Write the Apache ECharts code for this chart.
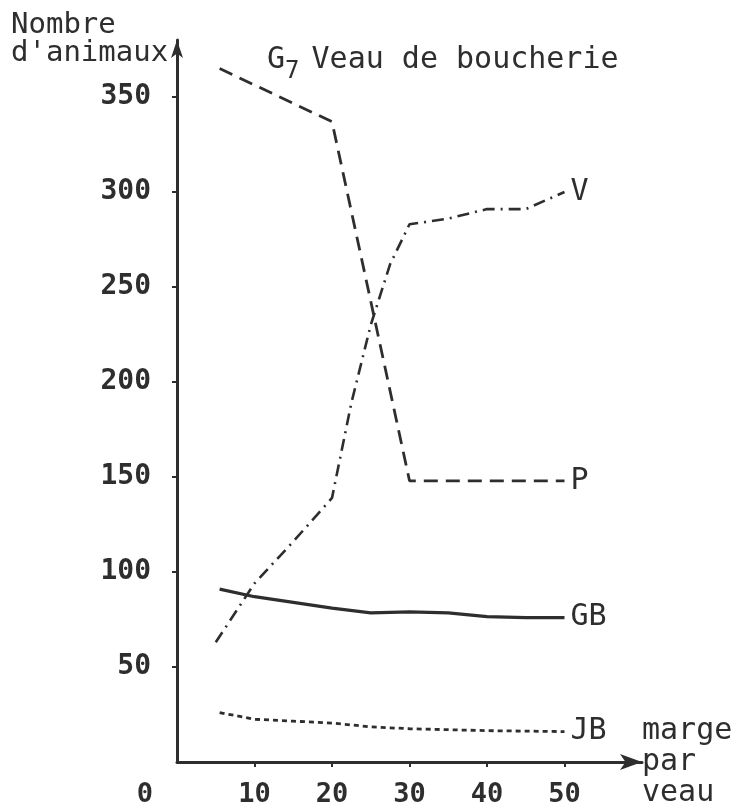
<!DOCTYPE html>
<html>
<head>
<meta charset="utf-8">
<script src="https://cdn.jsdelivr.net/npm/echarts@6/dist/echarts.min.js"></script>
<style>
  html, body { margin: 0; padding: 0; background: #fff; }
  #chart { width: 741px; height: 810px; }
</style>
</head>
<body>
<div id="chart"></div>
<script>
// valeurs (marge par veau -> nombre d'animaux)
const P_X = [5.5, 20, 30, 50];
const P_Y = [365, 337, 148, 148];

const V_X = [5, 10, 15, 20, 22.5, 25, 27.5, 30, 35, 40, 45, 50];
const V_Y = [63, 94, 116, 139, 189, 230, 262, 283, 286, 291, 291, 300];

const GB_X = [5.5, 10, 15, 20, 25, 30, 35, 40, 45, 50];
const GB_Y = [91, 87, 84, 81, 78.5, 79, 78.5, 76.5, 76, 76];

const JB_X = [5.5, 10, 15, 20, 25, 30, 40, 50];
const JB_Y = [26, 22.5, 21.5, 20.5, 18.5, 17.5, 16.5, 16];

const X_TICKS = [10, 20, 30, 40, 50];
const X_LABELS = [0, 10, 20, 30, 40, 50];
const Y_TICKS = [50, 100, 150, 200, 250, 300, 350];

const zip = (xs, ys) => xs.map((x, i) => [x, ys[i]]);

const FONT = "DejaVu Sans Mono";
const INK = "#2e2e2e";

const chart = echarts.init(document.getElementById("chart"), null, { renderer: "canvas" });

function curve(name, xs, ys, dash, width) {
  return {
    name: name,
    type: "line",
    data: zip(xs, ys),
    showSymbol: false,
    smooth: false,
    lineStyle: { color: INK, width: width, type: dash },
    endLabel: {
      show: true,
      formatter: name,
      distance: 6,
      color: INK,
      fontFamily: FONT,
      fontSize: 30
    },
    z: 3
  };
}

const option = {
  backgroundColor: "#fff",
  animation: false,
  title: [
    {
      text: "{g|G}{s|7}{t|Veau de boucherie}",
      left: 262,
      top: 31,
      textStyle: {
        fontWeight: "normal",
        rich: {
          g: { fontFamily: FONT, fontSize: 30, fontWeight: "normal", color: INK },
          s: { fontFamily: FONT, fontSize: 24, fontWeight: "normal", color: INK, padding: [24, 12, 0, 0] },
          t: { fontFamily: FONT, fontSize: 30, fontWeight: "normal", color: INK }
        }
      }
    },
    {
      text: "Nombre\nd'animaux",
      left: 6,
      top: 6,
      textStyle: { fontFamily: FONT, fontSize: 29, fontWeight: "normal", color: INK, lineHeight: 28 }
    }
  ],
  grid: { left: 177, right: 99, top: 40, bottom: 48, outerBoundsMode: "none" },
  xAxis: {
    type: "value",
    min: 0,
    max: 60,
    name: "marge\npar\nveau",
    nameLocation: "end",
    nameGap: 0,
    nameTextStyle: {
      fontFamily: FONT, fontSize: 30, color: INK, lineHeight: 31,
      align: "left", verticalAlign: "middle"
    },
    splitLine: { show: false },
    axisLine: {
      show: true,
      symbol: ["none", "arrow"],
      symbolSize: [12, 22],
      lineStyle: { color: INK, width: 3 }
    },
    axisTick: { show: true, inside: false, length: 5, customValues: X_TICKS, lineStyle: { color: INK, width: 2 } },
    axisLabel: {
      customValues: X_LABELS,
      margin: 19,
      fontFamily: FONT,
      fontSize: 27,
      fontWeight: "bold",
      color: INK,
      formatter: v => (v === 0 ? "{o|0}" : String(v)),
      rich: {
        o: { fontFamily: FONT, fontSize: 27, fontWeight: "bold", color: INK, padding: [0, 64, 0, 0] }
      }
    }
  },
  yAxis: {
    type: "value",
    min: 0,
    max: 380,
    splitLine: { show: false },
    axisLine: {
      show: true,
      symbol: ["none", "arrow"],
      symbolSize: [9, 18],
      lineStyle: { color: INK, width: 3 }
    },
    axisTick: { show: true, inside: false, length: 5, customValues: Y_TICKS, lineStyle: { color: INK, width: 2 } },
    axisLabel: {
      customValues: Y_TICKS,
      margin: 26,
      fontFamily: FONT,
      fontSize: 28,
      fontWeight: "bold",
      color: INK
    }
  },
  series: [
    curve("P", P_X, P_Y, [14, 8], 2.8),
    curve("V", V_X, V_Y, [12, 6, 2, 6], 2.6),
    curve("GB", GB_X, GB_Y, "solid", 3.2),
    curve("JB", JB_X, JB_Y, [5, 4], 2.8)
  ]
};

chart.setOption(option);
</script>
</body>
</html>
